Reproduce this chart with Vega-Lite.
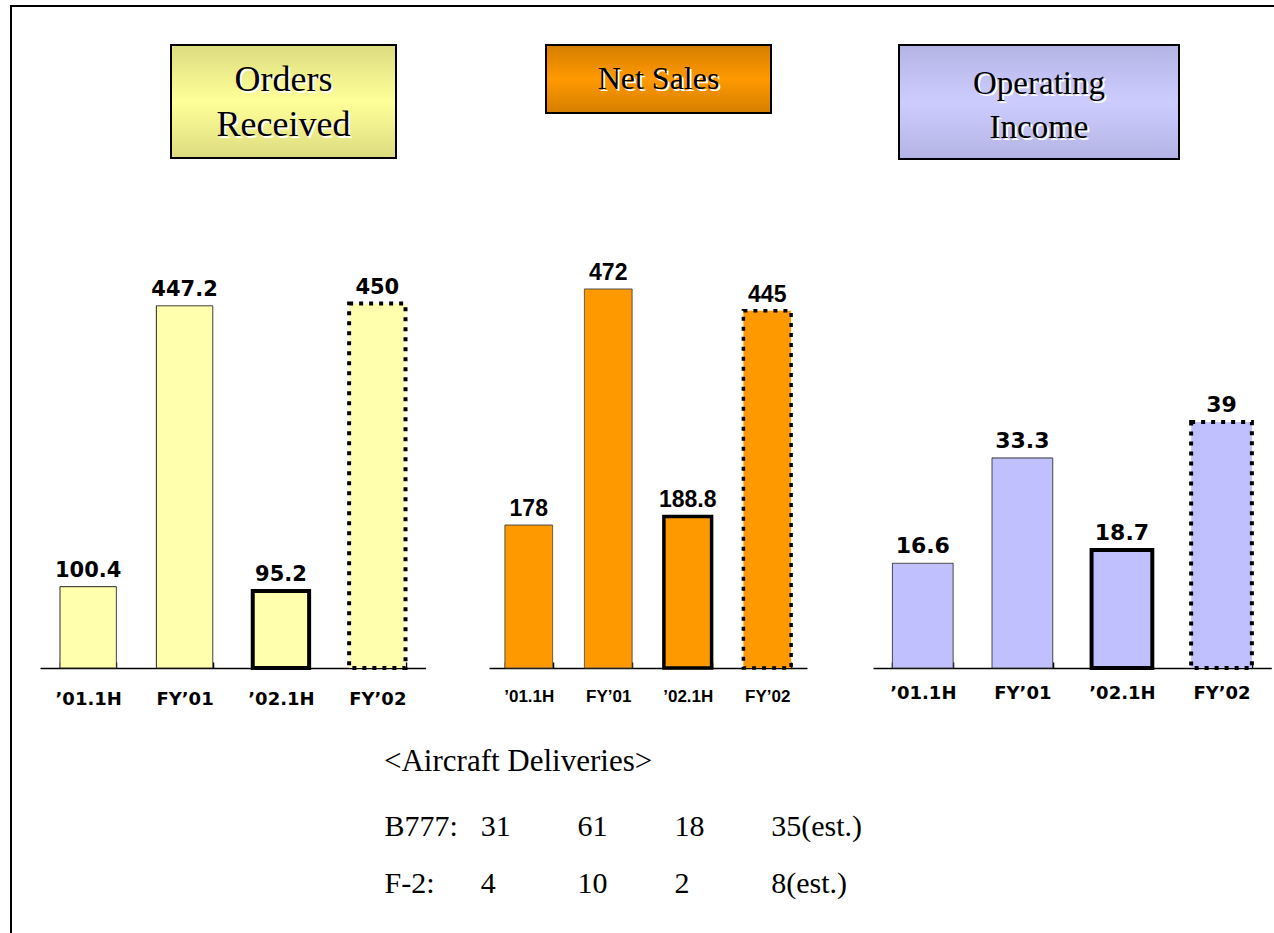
{
  "$schema": "https://vega.github.io/schema/vega-lite/v6.json",
  "padding": {"left": 10, "top": 5, "right": 0, "bottom": 0},
  "background": "white",
  "config": {
    "view": {"stroke": null},
    "concat": {"spacing": 0}
  },
  "datasets": {
    "results": [
      {"metric": "Orders Received", "period": "’01.1H", "value": 100.4},
      {"metric": "Orders Received", "period": "FY’01", "value": 447.2},
      {"metric": "Orders Received", "period": "’02.1H", "value": 95.2},
      {"metric": "Orders Received", "period": "FY’02", "value": 450},
      {"metric": "Net Sales", "period": "’01.1H", "value": 178},
      {"metric": "Net Sales", "period": "FY’01", "value": 472},
      {"metric": "Net Sales", "period": "’02.1H", "value": 188.8},
      {"metric": "Net Sales", "period": "FY’02", "value": 445},
      {"metric": "Operating Income", "period": "’01.1H", "value": 16.6},
      {"metric": "Operating Income", "period": "FY’01", "value": 33.3},
      {"metric": "Operating Income", "period": "’02.1H", "value": 18.7},
      {"metric": "Operating Income", "period": "FY’02", "value": 39}
    ],
    "headings": [
      {"metric": "Orders Received"},
      {"metric": "Net Sales"},
      {"metric": "Operating Income"}
    ],
    "deliveries": [
      {"aircraft": "B777", "period": "’01.1H", "units": 31, "label": "31"},
      {"aircraft": "B777", "period": "FY’01", "units": 61, "label": "61"},
      {"aircraft": "B777", "period": "’02.1H", "units": 18, "label": "18"},
      {"aircraft": "B777", "period": "FY’02", "units": 35, "label": "35(est.)"},
      {"aircraft": "F-2", "period": "’01.1H", "units": 4, "label": "4"},
      {"aircraft": "F-2", "period": "FY’01", "units": 10, "label": "10"},
      {"aircraft": "F-2", "period": "’02.1H", "units": 2, "label": "2"},
      {"aircraft": "F-2", "period": "FY’02", "units": 8, "label": "8(est.)"}
    ]
  },
  "spacing": 0,
  "bounds": "flush",
  "hconcat": [
    {
      "width": 0.001, "height": 926,
      "data": {"values": []},
      "mark": "point",
      "view": {"stroke": "black", "strokeWidth": 2}
    },
    {
      "spacing": 0,
      "bounds": "full",
      "vconcat": [
        {
          "width": 1262, "height": 0.001,
          "data": {"values": []},
          "mark": "point",
          "view": {"stroke": "black", "strokeWidth": 2}
        },
        {"width": 10, "height": 36, "data": {"values": []}, "mark": "point"},
        {
          "spacing": 0,
          "bounds": "flush",
          "hconcat": [
            {"width": 159, "height": 10, "data": {"values": []}, "mark": "point"},
            {
              "width": 225, "height": 113,
              "data": {"name": "headings"},
              "transform": [{"filter": "datum.metric === 'Orders Received'"}],
              "layer": [
                {
                  "mark": {"type": "rect", "stroke": "black", "strokeWidth": 2,
                    "fill": {"gradient": "linear", "x1": 0, "y1": 0, "x2": 0, "y2": 1,
                      "stops": [{"offset": 0, "color": "#DCDC80"}, {"offset": 0.5, "color": "#FFFF99"}, {"offset": 1, "color": "#DCDC80"}]}},
                  "encoding": {}
                },
                {
                  "mark": {"type": "text", "font": "Liberation Serif", "fontSize": 36, "lineBreak": " ", "lineHeight": 45, "fill": "white", "dx": 2, "dy": -20},
                  "encoding": {"text": {"field": "metric"}}
                },
                {
                  "mark": {"type": "text", "font": "Liberation Serif", "fontSize": 36, "lineBreak": " ", "lineHeight": 45, "fill": "black", "dy": -22},
                  "encoding": {"text": {"field": "metric"}}
                }
              ]
            },
            {"width": 150, "height": 10, "data": {"values": []}, "mark": "point"},
            {
              "width": 225, "height": 68,
              "data": {"name": "headings"},
              "transform": [{"filter": "datum.metric === 'Net Sales'"}],
              "layer": [
                {
                  "mark": {"type": "rect", "stroke": "black", "strokeWidth": 2,
                    "fill": {"gradient": "linear", "x1": 0, "y1": 0, "x2": 0, "y2": 1,
                      "stops": [{"offset": 0, "color": "#D47E00"}, {"offset": 0.5, "color": "#FF9900"}, {"offset": 1, "color": "#D47E00"}]}},
                  "encoding": {}
                },
                {
                  "mark": {"type": "text", "font": "Liberation Serif", "fontSize": 32, "fill": "white", "dx": 2, "dy": 2},
                  "encoding": {"text": {"field": "metric"}}
                },
                {
                  "mark": {"type": "text", "font": "Liberation Serif", "fontSize": 32, "fill": "black"},
                  "encoding": {"text": {"field": "metric"}}
                }
              ]
            },
            {"width": 128, "height": 10, "data": {"values": []}, "mark": "point"},
            {
              "width": 280, "height": 114,
              "data": {"name": "headings"},
              "transform": [{"filter": "datum.metric === 'Operating Income'"}],
              "layer": [
                {
                  "mark": {"type": "rect", "stroke": "black", "strokeWidth": 2,
                    "fill": {"gradient": "linear", "x1": 0, "y1": 0, "x2": 0, "y2": 1,
                      "stops": [{"offset": 0, "color": "#B4B4E4"}, {"offset": 0.5, "color": "#CCCCFF"}, {"offset": 1, "color": "#B4B4E4"}]}},
                  "encoding": {}
                },
                {
                  "mark": {"type": "text", "font": "Liberation Serif", "fontSize": 33, "lineBreak": " ", "lineHeight": 44, "fill": "white", "dx": 2, "dy": -16},
                  "encoding": {"text": {"field": "metric"}}
                },
                {
                  "mark": {"type": "text", "font": "Liberation Serif", "fontSize": 33, "lineBreak": " ", "lineHeight": 44, "fill": "black", "dy": -18},
                  "encoding": {"text": {"field": "metric"}}
                }
              ]
            }
          ]
        },
        {"width": 10, "height": 40, "data": {"values": []}, "mark": "point"},
        {
          "spacing": 0,
          "bounds": "flush",
          "hconcat": [
            {"width": 27.5, "height": 10, "data": {"values": []}, "mark": "point"},
            {
              "width": 385.5, "height": 468,
              "data": {"name": "results"},
              "transform": [{"filter": "datum.metric === 'Orders Received'"}],
              "encoding": {
                "x": {"field": "period", "type": "nominal", "sort": null,
                  "scale": {"paddingInner": 0.415, "paddingOuter": 0.2075},
                  "axis": {"title": null, "labelAngle": 0, "domainColor": "black", "domainWidth": 1.5, "tickColor": "black", "tickWidth": 1.5, "tickSize": -6, "tickBand": "extent",
                    "labelFont": "DejaVu Sans", "labelFontWeight": "bold", "labelFontSize": 18, "labelColor": "black", "labelBaseline": "alphabetic", "labelPadding": 42}},
                "y": {"field": "value", "type": "quantitative", "scale": {"domain": [0, 577.8], "nice": false}, "axis": null}
              },
              "layer": [
                {
                  "mark": {"type": "bar", "fill": "#FFFFAD", "stroke": "#222222"},
                  "encoding": {
                    "stroke": {"condition": {"test": "datum.period === \"’02.1H\" || datum.period === \"FY’02\"", "value": "black"}, "value": "#222222"},
                    "strokeWidth": {"condition": {"test": "datum.period === \"’02.1H\" || datum.period === \"FY’02\"", "value": 4}, "value": 1},
                    "strokeDash": {"condition": {"test": "datum.period === \"FY’02\"", "value": [4, 6]}, "value": [1, 0]}
                  }
                },
                {
                  "mark": {"type": "text", "font": "DejaVu Sans", "fontWeight": "bold", "fontSize": 21, "baseline": "alphabetic", "dy": -10, "color": "black"},
                  "encoding": {"text": {"field": "value", "type": "quantitative"}}
                }
              ]
            },
            {"width": 63, "height": 10, "data": {"values": []}, "mark": "point"},
            {
              "width": 318, "height": 468,
              "data": {"name": "results"},
              "transform": [{"filter": "datum.metric === 'Net Sales'"}],
              "encoding": {
                "x": {"field": "period", "type": "nominal", "sort": null,
                  "scale": {"paddingInner": 0.4, "paddingOuter": 0.2},
                  "axis": {"title": null, "labelAngle": 0, "domainColor": "black", "domainWidth": 1.5, "tickColor": "black", "tickWidth": 1.5, "tickSize": -6, "tickBand": "extent",
                    "labelFont": "Liberation Sans", "labelFontWeight": "bold", "labelFontSize": 17, "labelColor": "black", "labelBaseline": "alphabetic", "labelPadding": 39}},
                "y": {"field": "value", "type": "quantitative", "scale": {"domain": [0, 582.8], "nice": false}, "axis": null}
              },
              "layer": [
                {
                  "mark": {"type": "bar", "fill": "#FF9900"},
                  "encoding": {
                    "stroke": {"condition": {"test": "datum.period === \"’02.1H\" || datum.period === \"FY’02\"", "value": "black"}, "value": "#444444"},
                    "strokeWidth": {"condition": {"test": "datum.period === \"’02.1H\" || datum.period === \"FY’02\"", "value": 3.5}, "value": 1},
                    "strokeDash": {"condition": {"test": "datum.period === \"FY’02\"", "value": [4, 6]}, "value": [1, 0]}
                  }
                },
                {
                  "mark": {"type": "text", "font": "Liberation Sans", "fontWeight": "bold", "fontSize": 23, "baseline": "alphabetic", "dy": -9, "color": "black"},
                  "encoding": {"text": {"field": "value", "type": "quantitative"}}
                }
              ]
            },
            {"width": 65.7, "height": 10, "data": {"values": []}, "mark": "point"},
            {
              "width": 398.3, "height": 468,
              "data": {"name": "results"},
              "transform": [{"filter": "datum.metric === 'Operating Income'"}],
              "encoding": {
                "x": {"field": "period", "type": "nominal", "sort": null,
                  "scale": {"paddingInner": 0.39, "paddingOuter": 0.195},
                  "axis": {"title": null, "labelAngle": 0, "domainColor": "black", "domainWidth": 1.5, "tickColor": "black", "tickWidth": 1.5, "tickSize": -6, "tickBand": "extent",
                    "labelFont": "DejaVu Sans", "labelFontWeight": "bold", "labelFontSize": 18, "labelColor": "black", "labelBaseline": "alphabetic", "labelPadding": 36}},
                "y": {"field": "value", "type": "quantitative", "scale": {"domain": [0, 74.2], "nice": false}, "axis": null}
              },
              "layer": [
                {
                  "mark": {"type": "bar", "fill": "#C0C0FF"},
                  "encoding": {
                    "stroke": {"condition": {"test": "datum.period === \"’02.1H\" || datum.period === \"FY’02\"", "value": "black"}, "value": "#333333"},
                    "strokeWidth": {"condition": {"test": "datum.period === \"’02.1H\" || datum.period === \"FY’02\"", "value": 4}, "value": 1},
                    "strokeDash": {"condition": {"test": "datum.period === \"FY’02\"", "value": [4, 6]}, "value": [1, 0]}
                  }
                },
                {
                  "mark": {"type": "text", "font": "DejaVu Sans", "fontWeight": "bold", "fontSize": 22, "baseline": "alphabetic", "dy": -10, "color": "black"},
                  "encoding": {"text": {"field": "value", "type": "quantitative"}}
                }
              ]
            }
          ]
        },
        {"width": 10, "height": 37, "data": {"values": []}, "mark": "point"},
        {
          "spacing": 0,
          "bounds": "flush",
          "hconcat": [
            {"width": 372, "height": 10, "data": {"values": []}, "mark": "point"},
            {
              "width": 484, "height": 114,
              "data": {"name": "deliveries"},
              "title": {"text": "<Aircraft Deliveries>", "anchor": "start", "frame": "group", "font": "Liberation Serif", "fontSize": 31, "fontWeight": "normal", "color": "black", "baseline": "alphabetic", "offset": 5.5},
              "mark": {"type": "text", "font": "Liberation Serif", "fontSize": 30, "align": "left", "baseline": "alphabetic", "color": "black"},
              "encoding": {
                "x": {"field": "period", "type": "nominal", "sort": null, "scale": {"type": "point", "padding": 1.031}, "axis": null},
                "y": {"field": "aircraft", "type": "nominal", "sort": null, "scale": {"type": "point", "padding": 0.5},
                  "axis": {"title": null, "domain": false, "ticks": false, "labelAlign": "left", "labelPadding": 0, "labelBaseline": "alphabetic",
                    "labelFont": "Liberation Serif", "labelFontSize": 30, "labelColor": "black", "labelExpr": "datum.label + ':'"}},
                "text": {"field": "label"}
              }
            }
          ]
        }
      ]
    }
  ]
}
